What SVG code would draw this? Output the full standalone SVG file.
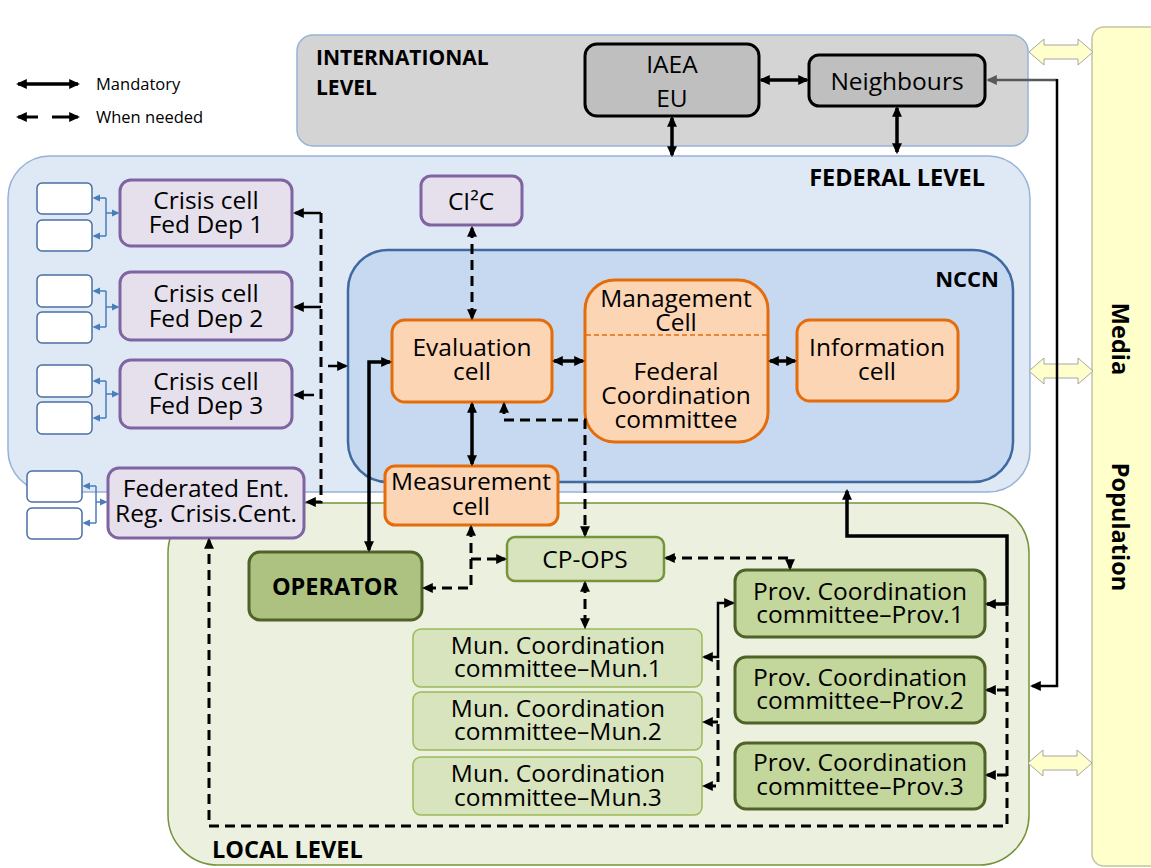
<svg xmlns="http://www.w3.org/2000/svg" xmlns:xlink="http://www.w3.org/1999/xlink" width="1151" height="868" viewBox="0 0 1151 868">
<style>
.t{font-family:"Open Sans","Liberation Sans",sans-serif;font-size:24.5px;fill:#000;text-anchor:middle}
.h{font-family:"Open Sans","Liberation Sans",sans-serif;font-weight:bold;font-size:23.5px;fill:#000}
.lg{font-family:"Open Sans","Liberation Sans",sans-serif;font-size:16.5px;fill:#000}
.purple{fill:#e5e0ec;stroke:#8064a2;stroke-width:3}
.orange{fill:#fcd5b5;stroke:#e46c0a;stroke-width:3}
.gray{fill:#bfbfbf;stroke:#000;stroke-width:3}
.mun{fill:#d7e4bd;stroke:#9bbb59;stroke-width:1.5}
.cpops{fill:#d7e4bd;stroke:#77933c;stroke-width:2.5}
.prov{fill:#c3d69b;stroke:#4f6228;stroke-width:3}
.op{fill:#adc280;stroke:#4f6228;stroke-width:3}
.sb{fill:#fff;stroke:#4a6fa5;stroke-width:1.5}
.s{fill:none;stroke:#000;stroke-width:3.5}
.s2{fill:none;stroke:#000;stroke-width:2.5}
.d{fill:none;stroke:#000;stroke-width:3;stroke-dasharray:10 6}
.b{fill:none;stroke:#4a7ebb;stroke-width:1.5}
.ya{fill:#ffffcc;stroke:#a6a6a6;stroke-width:1}
</style>
<defs>
<marker id="ah" viewBox="0 0 10 10" refX="8" refY="5" markerWidth="11" markerHeight="11" markerUnits="userSpaceOnUse" orient="auto-start-reverse"><path d="M0,0.5 L10,5 L0,9.5 z" fill="#000"/></marker>
<marker id="ahg" viewBox="0 0 10 10" refX="8" refY="5" markerWidth="11" markerHeight="11" markerUnits="userSpaceOnUse" orient="auto-start-reverse"><path d="M0,0.5 L10,5 L0,9.5 z" fill="#595959"/></marker>
<marker id="ahb" viewBox="0 0 10 10" refX="8" refY="5" markerWidth="8" markerHeight="8" markerUnits="userSpaceOnUse" orient="auto-start-reverse"><path d="M0,0.5 L10,5 L0,9.5 z" fill="#4a7ebb"/></marker>
<path id="yarrow" d="M-32,0 L-17,-13 L-17,-7 L17,-7 L17,-13 L32,0 L17,13 L17,7 L-17,7 L-17,13 Z"/>
</defs>

<!-- Legend -->
<g id="legend">
<path class="s" d="M18,84 H78" stroke-width="3" marker-start="url(#ah)" marker-end="url(#ah)"/>
<text class="lg" x="96" y="90">Mandatory</text>
<path class="d" d="M18,117 H78" style="stroke-dasharray:20 14 30" marker-start="url(#ah)" marker-end="url(#ah)"/>
<text class="lg" x="96" y="123">When needed</text>
</g>

<!-- Levels -->
<g id="international-level">
<rect x="297" y="35" width="731" height="111" rx="16" fill="#d4d4d4" stroke="#95b3d7" stroke-width="1.5"/>
<text class="h" x="316" y="65" style="font-size:21px">INTERNATIONAL</text>
<text class="h" x="316" y="95" style="font-size:21px">LEVEL</text>
</g>
<g id="federal-level">
<rect x="8" y="156" width="1022" height="336" rx="42" fill="#dfe8f5" stroke="#95b3d7" stroke-width="1.5"/>
<text class="h" x="985" y="186" text-anchor="end">FEDERAL LEVEL</text>
</g>
<g id="local-level">
<rect x="168" y="503" width="861" height="362" rx="50" fill="#ebf1de" stroke="#77933c" stroke-width="1.5"/>
<text class="h" x="212" y="858">LOCAL LEVEL</text>
</g>
<g id="nccn">
<rect x="348" y="250" width="665" height="232" rx="40" fill="#c6d9f1" stroke="#3e6aa0" stroke-width="2.5"/>
<text class="h" x="999" y="287" text-anchor="end" style="font-size:22px">NCCN</text>
</g>
<g id="media-population">
<rect x="1092" y="27" width="80" height="839" rx="12" fill="#ffffcc" stroke="#c4c4a0" stroke-width="1.5"/>
<text class="h" transform="translate(1112,339) rotate(90)" text-anchor="middle">Media</text>
<text class="h" transform="translate(1112,527) rotate(90)" text-anchor="middle">Population</text>
</g>
<g id="media-arrows">
<use xlink:href="#yarrow" class="ya" x="1061" y="52"/>
<use xlink:href="#yarrow" class="ya" x="1061" y="371"/>
<use xlink:href="#yarrow" class="ya" x="1060" y="763"/>
</g>

<!-- International nodes -->
<g id="iaea-eu">
<rect class="gray" x="585" y="44" width="174" height="72" rx="12"/>
<text class="t" x="672" y="73">IAEA</text>
<text class="t" x="672" y="107">EU</text>
</g>
<g id="neighbours">
<rect class="gray" x="809" y="55" width="176" height="51" rx="10"/>
<text class="t" x="897" y="90">Neighbours</text>
</g>

<!-- Federal nodes -->
<g id="crisis-cell-1">
<rect class="sb" x="37" y="183" width="55" height="31" rx="5"/>
<rect class="sb" x="37" y="220" width="55" height="31" rx="5"/>
<rect class="purple" x="120" y="180" width="172" height="66" rx="11"/>
<text class="t" x="206" y="209">Crisis cell</text>
<text class="t" x="206" y="233">Fed Dep 1</text>
</g>
<g id="crisis-cell-2">
<rect class="sb" x="37" y="275" width="55" height="32" rx="5"/>
<rect class="sb" x="37" y="312" width="55" height="31" rx="5"/>
<rect class="purple" x="120" y="272" width="172" height="68" rx="11"/>
<text class="t" x="206" y="302">Crisis cell</text>
<text class="t" x="206" y="327">Fed Dep 2</text>
</g>
<g id="crisis-cell-3">
<rect class="sb" x="37" y="365" width="55" height="32" rx="5"/>
<rect class="sb" x="37" y="402" width="55" height="32" rx="5"/>
<rect class="purple" x="120" y="360" width="172" height="68" rx="11"/>
<text class="t" x="206" y="390">Crisis cell</text>
<text class="t" x="206" y="414">Fed Dep 3</text>
</g>
<g id="federated-entities">
<rect class="sb" x="27" y="471" width="55" height="31" rx="5"/>
<rect class="sb" x="27" y="508" width="55" height="31" rx="5"/>
<rect class="purple" x="108" y="468" width="196" height="70" rx="11"/>
<text class="t" x="206" y="497">Federated Ent.</text>
<text class="t" x="206" y="522">Reg. Crisis.Cent.</text>
</g>
<g id="ci2c">
<rect class="purple" x="421" y="176" width="101" height="49" rx="10"/>
<text class="t" x="471" y="210">CI²C</text>
</g>
<g id="evaluation-cell">
<rect class="orange" x="392" y="320" width="160" height="82" rx="13"/>
<text class="t" x="472" y="356">Evaluation</text>
<text class="t" x="472" y="380">cell</text>
</g>
<g id="management-federal">
<rect class="orange" x="585" y="280" width="183" height="162" rx="30"/>
<line x1="586" y1="335" x2="767" y2="335" stroke="#e46c0a" stroke-width="1.5" stroke-dasharray="5 3"/>
<text class="t" x="676" y="307">Management</text>
<text class="t" x="676" y="331">Cell</text>
<text class="t" x="676" y="380">Federal</text>
<text class="t" x="676" y="404">Coordination</text>
<text class="t" x="676" y="428">committee</text>
</g>
<g id="information-cell">
<rect class="orange" x="797" y="320" width="161" height="81" rx="13"/>
<text class="t" x="877" y="356">Information</text>
<text class="t" x="877" y="380">cell</text>
</g>
<g id="measurement-cell">
<rect class="orange" x="385" y="466" width="173" height="59" rx="10"/>
<text class="t" x="471" y="490">Measurement</text>
<text class="t" x="471" y="515">cell</text>
</g>

<!-- Local nodes -->
<g id="operator">
<rect class="op" x="249" y="552" width="173" height="68" rx="11"/>
<text class="h" x="335" y="595" text-anchor="middle">OPERATOR</text>
</g>
<g id="cp-ops">
<rect class="cpops" x="507" y="537" width="157" height="44" rx="8"/>
<text class="t" x="585" y="568">CP-OPS</text>
</g>
<g id="mun-1">
<rect class="mun" x="413" y="629" width="289" height="58" rx="8"/>
<text class="t" x="558" y="654">Mun. Coordination</text>
<text class="t" x="558" y="677">committee–Mun.1</text>
</g>
<g id="mun-2">
<rect class="mun" x="413" y="692" width="289" height="58" rx="8"/>
<text class="t" x="558" y="717">Mun. Coordination</text>
<text class="t" x="558" y="740">committee–Mun.2</text>
</g>
<g id="mun-3">
<rect class="mun" x="413" y="757" width="289" height="58" rx="8"/>
<text class="t" x="558" y="782">Mun. Coordination</text>
<text class="t" x="558" y="806">committee–Mun.3</text>
</g>
<g id="prov-1">
<rect class="prov" x="735" y="570" width="250" height="67" rx="11"/>
<text class="t" x="860" y="600">Prov. Coordination</text>
<text class="t" x="860" y="623">committee–Prov.1</text>
</g>
<g id="prov-2">
<rect class="prov" x="735" y="657" width="250" height="66" rx="11"/>
<text class="t" x="860" y="686">Prov. Coordination</text>
<text class="t" x="860" y="709">committee–Prov.2</text>
</g>
<g id="prov-3">
<rect class="prov" x="735" y="743" width="250" height="66" rx="11"/>
<text class="t" x="860" y="771">Prov. Coordination</text>
<text class="t" x="860" y="795">committee–Prov.3</text>
</g>

<!-- Connectors -->
<g id="connectors">
<path class="s" d="M761,80 H807" marker-start="url(#ah)" marker-end="url(#ah)"/>
<path class="s" d="M672,118 V155" marker-start="url(#ah)" marker-end="url(#ah)"/>
<path class="s" d="M897,108 V152" marker-start="url(#ah)" marker-end="url(#ah)"/>
<path d="M1057,80 H988" fill="none" stroke="#595959" stroke-width="2.5" marker-end="url(#ahg)"/>
<path class="s2" d="M1057,79 V686 H1032" marker-end="url(#ah)"/>
<path class="b" d="M106,198 H94" marker-end="url(#ahb)"/>
<path class="b" d="M106,236 H94" marker-end="url(#ahb)"/>
<path class="b" d="M106,198 V236 M106,213 H118" marker-end="url(#ahb)"/>
<path class="b" d="M106,291 H94" marker-end="url(#ahb)"/>
<path class="b" d="M106,327 H94" marker-end="url(#ahb)"/>
<path class="b" d="M106,291 V327 M106,307 H118" marker-end="url(#ahb)"/>
<path class="b" d="M106,381 H94" marker-end="url(#ahb)"/>
<path class="b" d="M106,418 H94" marker-end="url(#ahb)"/>
<path class="b" d="M106,381 V418 M106,394 H118" marker-end="url(#ahb)"/>
<path class="b" d="M96,486 H84" marker-end="url(#ahb)"/>
<path class="b" d="M96,523 H84" marker-end="url(#ahb)"/>
<path class="b" d="M96,486 V523 M96,502 H106" marker-end="url(#ahb)"/>
<path class="d" d="M321,213 V502 H307" marker-end="url(#ah)"/>
<path class="s2" d="M321,213 H295" marker-end="url(#ah)"/>
<path class="s2" d="M321,307 H295" marker-end="url(#ah)"/>
<path class="s2" d="M314,395 H295" marker-end="url(#ah)"/>
<path class="s2" d="M328,366 H346" marker-end="url(#ah)"/>
<path class="d" d="M472,228 V318" marker-start="url(#ah)" marker-end="url(#ah)"/>
<path class="s" d="M554,361 H583" marker-start="url(#ah)" marker-end="url(#ah)"/>
<path class="s" d="M770,361 H795" marker-start="url(#ah)" marker-end="url(#ah)"/>
<path class="s" d="M472,404 V464" marker-start="url(#ah)" marker-end="url(#ah)"/>
<path class="d" d="M504,404 V420 H585 V535" marker-start="url(#ah)" marker-end="url(#ah)"/>
<path class="s" d="M390,362 H369 V550" marker-start="url(#ah)" marker-end="url(#ah)"/>
<path class="d" d="M471,527 V588 H424" marker-start="url(#ah)" marker-end="url(#ah)"/>
<path class="d" d="M471,559 H505" marker-end="url(#ah)"/>
<path class="d" d="M666,558 H790 V568" marker-start="url(#ah)" marker-end="url(#ah)"/>
<path class="d" d="M585,583 V627" marker-start="url(#ah)" marker-end="url(#ah)"/>
<path class="s2" d="M733,603 H718 V657 H704" marker-start="url(#ah)" marker-end="url(#ah)"/>
<path class="d" d="M718,660 V786 H704" marker-end="url(#ah)"/>
<path class="d" d="M718,722 H704" marker-end="url(#ah)"/>
<path class="s" d="M847,491 V536 H1007 V604 H987" marker-start="url(#ah)" marker-end="url(#ah)"/>
<path class="d" d="M1007,606 V826 H209 V540" marker-end="url(#ah)"/>
<path class="d" d="M1007,690 H987" marker-end="url(#ah)"/>
<path class="d" d="M1007,775 H987" marker-end="url(#ah)"/>
</g>
</svg>
